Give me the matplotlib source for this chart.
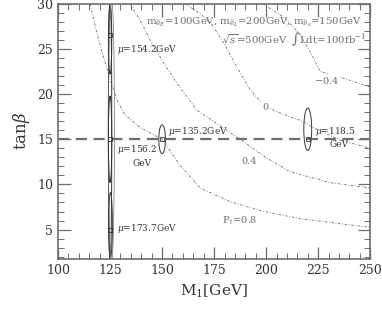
import numpy as np
import matplotlib
matplotlib.use("Agg")
import matplotlib.pyplot as plt
from matplotlib.patches import Ellipse

GRAY = "#6e6e6e"
DARK = "#333333"

# P_tau contours (M1, tan beta)
p08_m1 = [115.4, 118.3, 121.2, 125.0, 128.8, 132.2, 139.4, 150.0, 158.7, 168.3, 182.7, 197.1, 216.3, 250.0]
p08_tb = [30.0, 27.1, 24.6, 21.6, 19.1, 17.7, 16.3, 15.0, 12.1, 9.6, 8.1, 7.1, 6.2, 5.25]
p04_m1 = [134.6, 139.4, 144.2, 151.4, 158.7, 166.8, 177.9, 189.9, 200.5, 211.5, 230.8, 250.0]
p04_tb = [30.0, 28.2, 26.0, 23.2, 20.7, 18.2, 16.5, 14.6, 12.9, 11.4, 10.2, 9.6]
p00_m1 = [161.1, 168.3, 174.0, 180.3, 186.1, 192.3, 198.6, 206.7, 216.3, 223.6, 235.6, 250.0]
p00_tb = [30.0, 28.9, 27.7, 25.4, 22.9, 20.5, 18.8, 17.9, 17.1, 16.2, 14.9, 14.0]
pm04_m1 = [198.6, 209.1, 216.3, 222.1, 226.0, 238.0, 250.0]
pm04_tb = [30.0, 28.4, 26.6, 24.3, 22.5, 21.7, 20.8]

# input points (M1, tan beta)
mu_m1 = [125.0, 125.0, 125.0, 150.0, 220.0]
mu_tb = [26.5, 15.0, 5.0, 15.0, 15.0]
# error ellipses: centre, half-width, half-height
ell_m1 = [125.0, 125.0, 125.2, 150.0, 220.0]
ell_tb = [26.0, 15.0, 5.5, 15.0, 16.1]
ell_dx = [0.8, 0.8, 0.9, 1.6, 1.9]
ell_dy = [3.8, 4.8, 3.6, 1.6, 2.35]

plt.rcParams["font.family"] = "DejaVu Serif"
plt.rcParams["mathtext.fontset"] = "dejavuserif"

fig = plt.figure(figsize=(3.82, 3.15), dpi=100)
ax = fig.add_axes([0.152, 0.178, 0.817, 0.81])

ls = (0, (3, 2, 1, 2))
for m, t in [(p08_m1, p08_tb), (p04_m1, p04_tb), (p00_m1, p00_tb),
             (pm04_m1, pm04_tb)]:
    ax.plot(m, t, color=GRAY, lw=0.6, ls=ls)

ax.axhline(15, color=GRAY, lw=1.6, ls=(0, (5, 3)))

# long thin vertical band at M1 = 125
ax.add_patch(Ellipse((125.0, 16.0), 1.6, 30.0, fill=False, ec=DARK, lw=0.7))
ax.add_patch(Ellipse((125.6, 16.0), 3.0, 30.0, fill=False, ec=GRAY, lw=0.5))
for m, t, dx, dy in zip(ell_m1, ell_tb, ell_dx, ell_dy):
    ax.add_patch(Ellipse((m, t), 2 * dx, 2 * dy, fill=False, ec=DARK, lw=0.7))
ax.plot(mu_m1, mu_tb, ls="none", marker="s", ms=3, mfc="none", mec=DARK, mew=0.6)

fs = 6.5
ax.text(128.4, 24.9, "$\\mu$=154.2GeV", fontsize=fs, color=DARK, va="center")
ax.text(128.4, 13.9, "$\\mu$=156.2", fontsize=fs, color=DARK, va="center")
ax.text(135.6, 12.3, "GeV", fontsize=fs, color=DARK, va="center")
ax.text(128.4, 5.1, "$\\mu$=173.7GeV", fontsize=fs, color=DARK, va="center")
ax.text(152.9, 15.9, "$\\mu$=135.2GeV", fontsize=fs, color=DARK, va="center")
ax.text(223.6, 15.9, "$\\mu$=118.5", fontsize=fs, color=DARK, va="center")
ax.text(230.5, 14.4, "GeV", fontsize=fs, color=DARK, va="center")

box = dict(fc="white", ec="none", pad=0.5)
ax.text(229.3, 21.5, "$-$0.4", fontsize=7, color=GRAY, ha="center", va="center", bbox=box)
ax.text(199.5, 18.5, "0", fontsize=7, color=GRAY, ha="center", va="center", bbox=box)
ax.text(192.0, 12.5, "0.4", fontsize=7, color=GRAY, ha="center", va="center", bbox=box)
ax.text(187.5, 6.0, "P$_\\tau$=0.8", fontsize=7, color=GRAY, ha="center", va="center")

ax.text(246, 28.0, "m$_{\\tilde e_R}$=100GeV, m$_{\\tilde e_L}$=200GeV, m$_{\\tilde\\nu_e}$=150GeV",
        fontsize=7.3, color=GRAY, ha="right", va="center")
ax.text(248, 26.1, "$\\sqrt{s}$=500GeV  $\\int$Ldt=100fb$^{-1}$",
        fontsize=7.3, color=GRAY, ha="right", va="center")

ax.set_xlim(100, 250)
ax.set_ylim(1.75, 30)
ax.set_xticks([100, 125, 150, 175, 200, 225, 250])
ax.set_xticks(np.arange(100, 251, 5), minor=True)
ax.set_yticks([5, 10, 15, 20, 25, 30])
ax.set_yticks(np.arange(2, 31, 1), minor=True)
ax.tick_params(which="both", direction="in", top=True, right=True,
               color=GRAY, labelcolor=DARK, labelsize=9)
ax.tick_params(which="major", length=9, width=0.9)
ax.tick_params(which="minor", length=4, width=0.7)
for s in ax.spines.values():
    s.set_color(GRAY)
    s.set_linewidth(1.2)

ax.set_xlabel("M$_1$[GeV]", fontsize=11, color=DARK)
ax.set_ylabel("tan$\\beta$", fontsize=12, color=DARK)

fig.savefig("out.png", dpi=100)
